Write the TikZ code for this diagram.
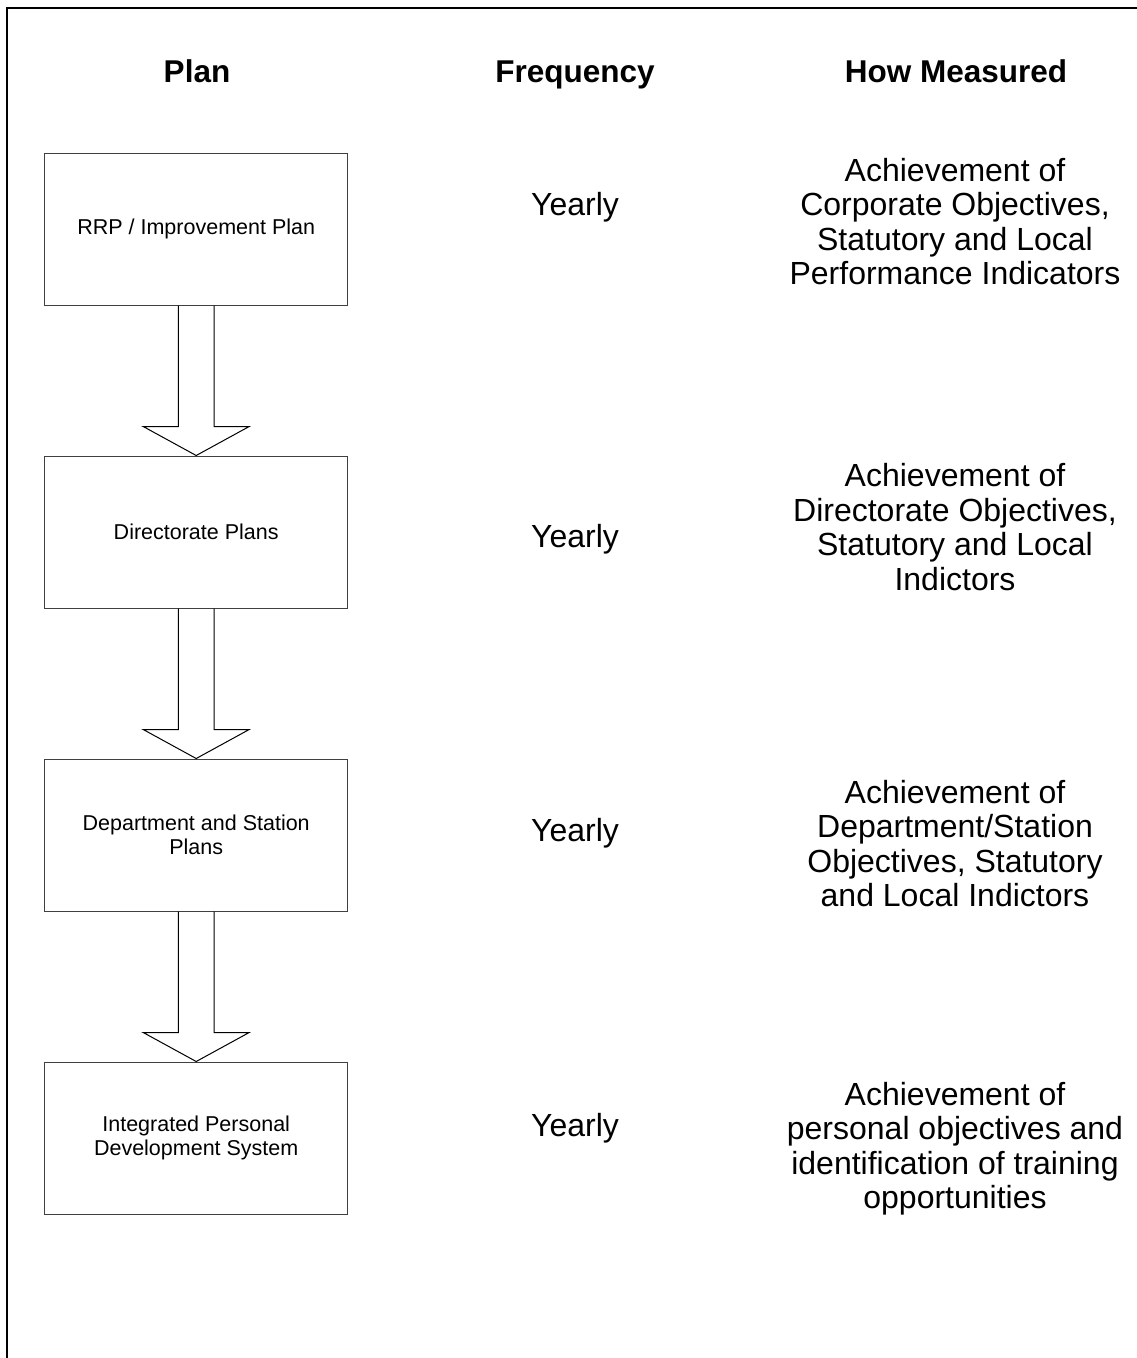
\documentclass[tikz,border=0pt]{standalone}
\usepackage{fontspec}
\setmainfont{Liberation Sans}
\usetikzlibrary{calc}
\begin{document}
\begin{tikzpicture}[x=1pt,y=-1pt,
  planbox/.style={draw=black!75, line width=1pt, minimum width=303pt, minimum height=152pt,
    inner sep=0pt, align=center, font=\fontsize{21.5}{24.5}\selectfont},
  header/.style={anchor=base, inner sep=0pt, font=\fontsize{31.5}{36}\selectfont\bfseries},
  freq/.style={anchor=base, inner sep=0pt, font=\fontsize{32}{36}\selectfont},
  measure/.style={anchor=north, inner sep=0pt, align=center, font=\fontsize{32}{34.5}\selectfont},
  blockarrow/.style={draw=black, line width=1pt, line join=miter}]
\useasboundingbox (0,0) rectangle (1136,1358);
% frame (cut off at right and bottom)
\draw[line width=2pt] (7,1362) -- (7,8) -- (1140,8);
% headers
\node[header] (hplan) at (197,82) {Plan};
\node[header] (hfreq) at (575,82) {Frequency};
\node[header] (hhow) at (956,82) {How Measured};
% plan boxes
\node[planbox] (b1) at (196.2,229) {RRP / Improvement Plan};
\node[planbox] (b2) at (196.2,532) {Directorate Plans};
\node[planbox] (b3) at (196.2,835) {Department and Station\\Plans};
\node[planbox] (b4) at (196.2,1138) {Integrated Personal\\Development System};
% block arrows
\foreach \a/\b in {b1/b2,b2/b3,b3/b4}{
  \draw[blockarrow] ($(\a.south)+(-17.8,0)$) -- ($(\a.south)+(-17.8,121)$)
    -- ($(\a.south)+(-53,121)$) -- (\b.north) -- ($(\a.south)+(53,121)$)
    -- ($(\a.south)+(17.8,121)$) -- ($(\a.south)+(17.8,0)$);
}
% frequency
\node[freq] (f1) at (575,215) {Yearly};
\node[freq] (f2) at (575,547) {Yearly};
\node[freq] (f3) at (575,841) {Yearly};
\node[freq] (f4) at (575,1136) {Yearly};
% how measured
\node[measure] (m1) at (955,157.8) {Achievement of\\Corporate Objectives,\\Statutory and Local\\Performance Indicators};
\node[measure] (m2) at (955,463.5) {Achievement of\\Directorate Objectives,\\Statutory and Local\\Indictors};
\node[measure] (m3) at (955,780) {Achievement of\\Department/Station\\Objectives, Statutory\\and Local Indictors};
\node[measure] (m4) at (955,1081.8) {Achievement of\\personal objectives and\\identification of training\\opportunities};
\end{tikzpicture}
\end{document}
